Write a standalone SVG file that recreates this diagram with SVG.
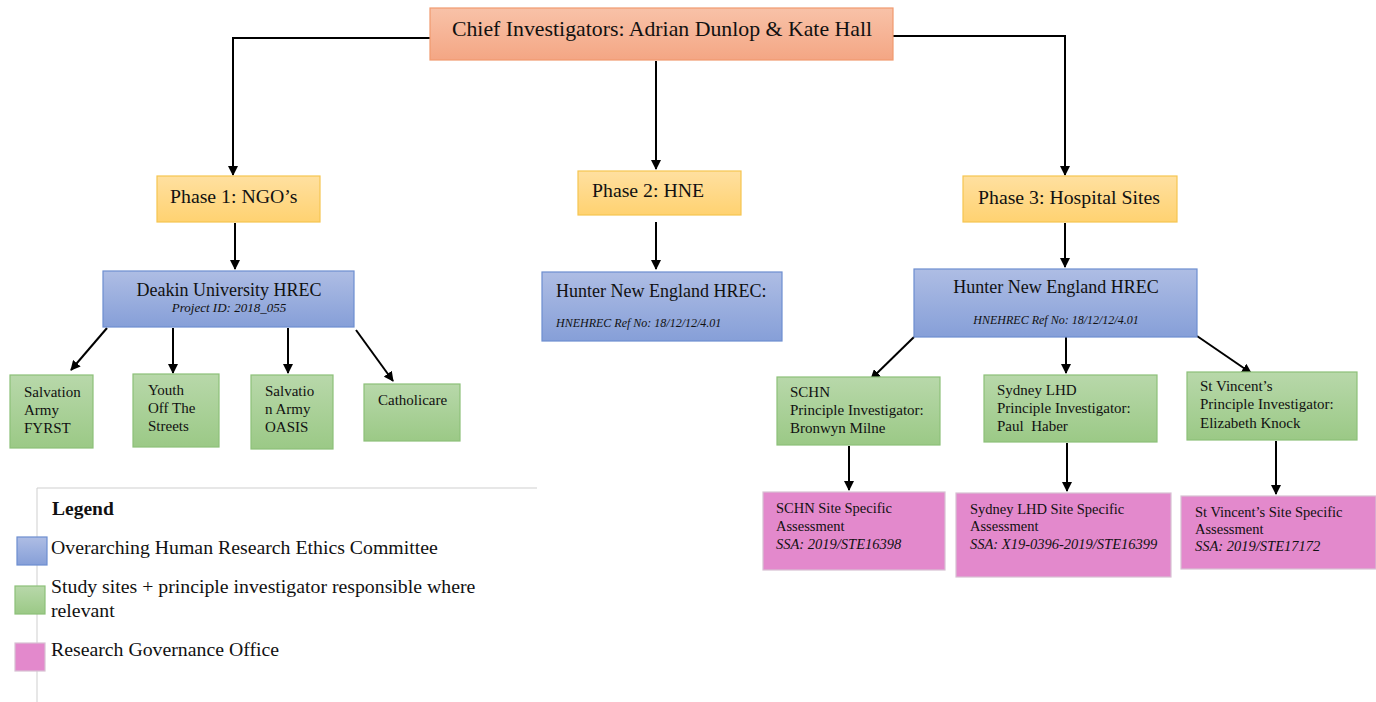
<svg xmlns="http://www.w3.org/2000/svg" width="1376" height="702" viewBox="0 0 1376 702">
<defs>
<linearGradient id="gChief" x1="0" y1="0" x2="0" y2="1"><stop offset="0" stop-color="#f8c2a8"/><stop offset="1" stop-color="#f4a684"/></linearGradient>
<linearGradient id="gPhase" x1="0" y1="0" x2="0" y2="1"><stop offset="0" stop-color="#ffe0a0"/><stop offset="1" stop-color="#ffd271"/></linearGradient>
<linearGradient id="gBlue" x1="0" y1="0" x2="0" y2="1"><stop offset="0" stop-color="#aebde4"/><stop offset="1" stop-color="#869fd8"/></linearGradient>
<linearGradient id="gGreen" x1="0" y1="0" x2="0" y2="1"><stop offset="0" stop-color="#b8d8aa"/><stop offset="1" stop-color="#9bc986"/></linearGradient>
<marker id="arr" viewBox="0 0 10 10" refX="9" refY="5" markerWidth="10" markerHeight="10" markerUnits="userSpaceOnUse" orient="auto"><path d="M0,0 L10,5 L0,10 z" fill="#000"/></marker>
</defs>
<style>
text{font-family:"Liberation Serif","Times New Roman",serif;fill:#111}
.chief{fill:url(#gChief);stroke:#f19a6f;stroke-width:1.2}
.phase{fill:url(#gPhase);stroke:#f6c550;stroke-width:1.2}
.blue{fill:url(#gBlue);stroke:#6d8ed0;stroke-width:1.2}
.green{fill:url(#gGreen);stroke:#8cc078;stroke-width:1.2}
.pink{fill:#e389cc;stroke:#d7c0d3;stroke-width:1.2}
.conn path{fill:none;stroke:#000;stroke-width:2;marker-end:url(#arr)}
.t18{font-size:18px}
.ph{font-size:19.8px}
.lg{font-size:19.8px}
.t15{font-size:15px}
.t14{font-size:14.5px}
.it{font-style:italic;font-size:12px}
.it13{font-style:italic;font-size:13px}
.it14{font-style:italic;font-size:14.5px}
.pre{white-space:pre}
</style>
<rect width="1376" height="702" fill="#fff"/>

<g id="legend">
<path d="M37,488 H537 M37,488 V702" fill="none" stroke="#cfcfcf" stroke-width="1"/>
<text x="52" y="515" font-size="19.5" font-weight="bold">Legend</text>
<rect x="17" y="537" width="30" height="28" class="blue"/>
<text x="51" y="554" class="lg">Overarching Human Research Ethics Committee</text>
<rect x="15" y="586" width="30" height="28" class="green"/>
<text x="51" y="593" class="lg">Study sites + principle investigator responsible where</text>
<text x="51" y="617" class="lg">relevant</text>
<rect x="15" y="643" width="30" height="28" class="pink"/>
<text x="51" y="656" class="lg">Research Governance Office</text>
</g>

<g class="conn" id="connectors">
<path d="M430,38 H233 V175"/>
<path d="M893,36 H1065 V175"/>
<path d="M656,61 V169"/>
<path d="M235,223 V269"/>
<path d="M656,222 V269"/>
<path d="M1065,223 V267"/>
<path d="M107,328 L71,370"/>
<path d="M173,328 V373"/>
<path d="M288,328 V373"/>
<path d="M356,330 L393,381"/>
<path d="M914,337 L871,379"/>
<path d="M1066,337 V373"/>
<path d="M1197,336 L1251,373"/>
<path d="M849,446 V490"/>
<path d="M1067,443 V491"/>
<path d="M1276,441 V494"/>
</g>

<g id="chief">
<rect x="430" y="8" width="463" height="52" class="chief"/>
<text x="662" y="36" font-size="21.8" text-anchor="middle">Chief Investigators: Adrian Dunlop &amp; Kate Hall</text>
</g>

<g id="phase1">
<rect x="157" y="176" width="163" height="46" class="phase"/>
<text x="170" y="203" class="ph">Phase 1: NGO’s</text>
</g>
<g id="phase2">
<rect x="578" y="171" width="163" height="44" class="phase"/>
<text x="592" y="197" class="ph">Phase 2: HNE</text>
</g>
<g id="phase3">
<rect x="963" y="176" width="214" height="46" class="phase"/>
<text x="978" y="204" class="ph">Phase 3: Hospital Sites</text>
</g>

<g id="deakin">
<rect x="103" y="271" width="251" height="56" class="blue"/>
<text x="229" y="296" class="t18" text-anchor="middle">Deakin University HREC</text>
<text x="229" y="312" class="it13" text-anchor="middle">Project ID: 2018_055</text>
</g>
<g id="hne2">
<rect x="542" y="272" width="240" height="69" class="blue"/>
<text x="556" y="297" class="t18">Hunter New England HREC:</text>
<text x="556" y="327" class="it">HNEHREC Ref No: 18/12/12/4.01</text>
</g>
<g id="hne3">
<rect x="914" y="269" width="283" height="68" class="blue"/>
<text x="1056" y="293" class="t18" text-anchor="middle">Hunter New England HREC</text>
<text x="1056" y="324" class="it" text-anchor="middle">HNEHREC Ref No: 18/12/12/4.01</text>
</g>

<g id="fyrst">
<rect x="10" y="375" width="83" height="73" class="green"/>
<text x="24" y="397" class="t15">Salvation</text>
<text x="24" y="415" class="t15">Army</text>
<text x="24" y="433" class="t15">FYRST</text>
</g>
<g id="youth">
<rect x="133" y="374" width="86" height="73" class="green"/>
<text x="148" y="395" class="t15">Youth</text>
<text x="148" y="413" class="t15">Off The</text>
<text x="148" y="431" class="t15">Streets</text>
</g>
<g id="oasis">
<rect x="251" y="375" width="82" height="74" class="green"/>
<text x="265" y="396" class="t15">Salvatio</text>
<text x="265" y="414" class="t15">n Army</text>
<text x="265" y="432" class="t15">OASIS</text>
</g>
<g id="catholicare">
<rect x="364" y="384" width="96" height="57" class="green"/>
<text x="378" y="405" class="t15">Catholicare</text>
</g>

<g id="schn">
<rect x="777" y="377" width="163" height="68" class="green"/>
<text x="790" y="397" class="t15">SCHN</text>
<text x="790" y="415" class="t15">Principle Investigator:</text>
<text x="790" y="433" class="t15">Bronwyn Milne</text>
</g>
<g id="sydney">
<rect x="984" y="375" width="173" height="67" class="green"/>
<text x="997" y="395" class="t15">Sydney LHD</text>
<text x="997" y="413" class="t15">Principle Investigator:</text>
<text x="997" y="431" class="t15 pre">Paul  Haber</text>
</g>
<g id="stvincent">
<rect x="1187" y="372" width="170" height="68" class="green"/>
<text x="1200" y="391" class="t15">St Vincent’s</text>
<text x="1200" y="409" class="t15">Principle Investigator:</text>
<text x="1200" y="428" class="t15">Elizabeth Knock</text>
</g>

<g id="schn_ssa">
<rect x="763" y="492" width="182" height="78" class="pink"/>
<text x="776" y="513" class="t14">SCHN Site Specific</text>
<text x="776" y="531" class="t14">Assessment</text>
<text x="776" y="549" class="it14">SSA: 2019/STE16398</text>
</g>
<g id="sydney_ssa">
<rect x="956" y="493" width="215" height="84" class="pink"/>
<text x="970" y="514" class="t14">Sydney LHD Site Specific</text>
<text x="970" y="531" class="t14">Assessment</text>
<text x="970" y="549" class="it14">SSA: X19-0396-2019/STE16399</text>
</g>
<g id="stvincent_ssa">
<rect x="1181" y="496" width="195" height="73" class="pink"/>
<text x="1195" y="517" class="t14">St Vincent’s Site Specific</text>
<text x="1195" y="534" class="t14">Assessment</text>
<text x="1195" y="551" class="it14">SSA: 2019/STE17172</text>
</g>
</svg>
